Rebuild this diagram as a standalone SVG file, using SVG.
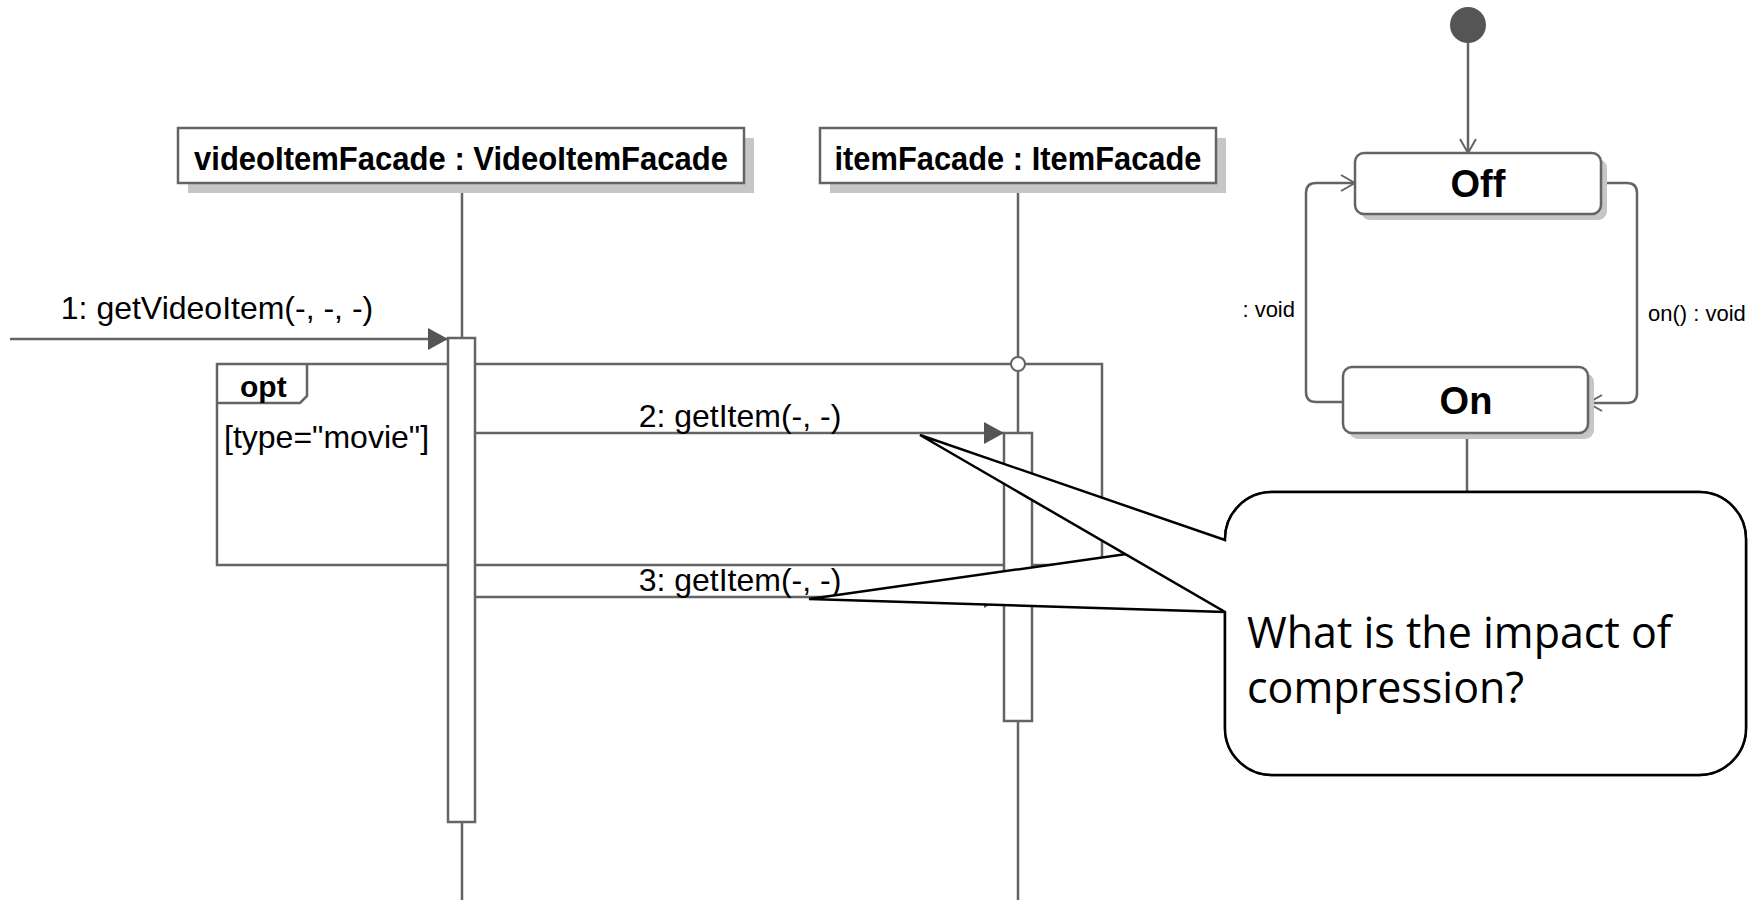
<svg xmlns="http://www.w3.org/2000/svg" width="1749" height="900" viewBox="0 0 1749 900">
<style>
.ln{stroke:#646464;stroke-width:2.5;fill:none}
.box{fill:#fff;stroke:#646464;stroke-width:2.5}
.sh{fill:#c6c6c6;stroke:none}
.t{font-family:"Liberation Sans",Arial,Helvetica,sans-serif;fill:#000}
.b{font-weight:bold}
.call{fill:#fff;stroke:#000;stroke-width:2.5;stroke-linejoin:miter}
.ct{font-family:"Open Sans","Noto Sans",sans-serif;font-size:43px;fill:#000}
</style>
<defs>
<marker id="fa" markerUnits="userSpaceOnUse" markerWidth="20" markerHeight="22" refX="20" refY="11" orient="auto">
<path d="M0,0 L20,11 L0,22 Z" fill="#555"/>
</marker>
<marker id="oa" markerUnits="userSpaceOnUse" markerWidth="16" markerHeight="18" refX="15" refY="9" orient="auto">
<path d="M1,1 L15,9 L1,17" fill="none" stroke="#646464" stroke-width="2"/>
</marker>
<clipPath id="clipOff"><rect x="1239" y="280" width="100" height="60"/></clipPath>
</defs>
<rect width="1749" height="900" fill="#fff"/>

<g id="lifeline-videoItemFacade">
<line class="ln" x1="462" y1="183" x2="462" y2="900"/>
<rect class="sh" x="188" y="138" width="566" height="55"/>
<rect class="box" x="178" y="128" width="566" height="55"/>
<text class="t b" x="461" y="170" font-size="33" text-anchor="middle" textLength="534" lengthAdjust="spacingAndGlyphs">videoItemFacade : VideoItemFacade</text>
</g>
<g id="lifeline-itemFacade">
<line class="ln" x1="1018" y1="183" x2="1018" y2="900"/>
<rect class="sh" x="830" y="138" width="396" height="55"/>
<rect class="box" x="820" y="128" width="396" height="55"/>
<text class="t b" x="1018" y="170" font-size="33" text-anchor="middle" textLength="367" lengthAdjust="spacingAndGlyphs">itemFacade : ItemFacade</text>
</g>

<g id="opt-frame">
<rect class="ln" x="217" y="364" width="885" height="201"/>
<path class="ln" d="M217,403 H300 L307,396 V364"/>
<circle cx="1018" cy="364" r="7" fill="#fff" stroke="#646464" stroke-width="2"/>
<text class="t b" x="240" y="397" font-size="30">opt</text>
<text class="t" x="224" y="448" font-size="32">[type="movie"]</text>
</g>

<g id="activations">
<rect class="box" x="448" y="338" width="27" height="484"/>
<rect class="box" x="1004" y="433" width="28" height="288"/>
</g>

<g id="connectors">
<line class="ln" x1="10" y1="339" x2="448" y2="339" marker-end="url(#fa)"/>
<line class="ln" x1="475" y1="433" x2="1004" y2="433" marker-end="url(#fa)"/>
<line class="ln" x1="475" y1="597" x2="1004" y2="597" marker-end="url(#fa)"/>
<line class="ln" x1="1468" y1="43" x2="1468" y2="153" marker-end="url(#oa)"/>
<path class="ln" d="M1601,183 H1627 Q1637,183 1637,193 V393 Q1637,403 1627,403 H1588" marker-end="url(#oa)"/>
<path class="ln" d="M1343,402 H1316 Q1306,402 1306,392 V193 Q1306,183 1316,183 H1355" marker-end="url(#oa)"/>
<line class="ln" x1="1467" y1="433" x2="1467" y2="492"/>
</g>

<g id="labels">
<text class="t" x="217" y="319" font-size="32" text-anchor="middle">1: getVideoItem(-, -, -)</text>
<text class="t" x="740" y="427" font-size="32" text-anchor="middle">2: getItem(-, -)</text>
<text class="t" x="740" y="591" font-size="32" text-anchor="middle">3: getItem(-, -)</text>
<text class="t" x="1648" y="321" font-size="22">on() : void</text>
<text class="t" x="1295" y="317" font-size="22" text-anchor="end" clip-path="url(#clipOff)">) : void</text>
</g>

<g id="initial">
<circle cx="1468" cy="25" r="18" fill="#555"/>
</g>
<g id="state-Off">
<rect class="sh" x="1361" y="159" width="246" height="61" rx="9"/>
<rect class="box" x="1355" y="153" width="246" height="61" rx="9"/>
<text class="t b" x="1478" y="197" font-size="38" text-anchor="middle">Off</text>
</g>
<g id="state-On">
<rect class="sh" x="1349" y="373" width="245" height="66" rx="9"/>
<rect class="box" x="1343" y="367" width="245" height="66" rx="9"/>
<text class="t b" x="1466" y="414" font-size="38" text-anchor="middle">On</text>
</g>

<g id="callout-msg3">
<path class="call" d="M1225,540 L809,599 L1225,612 V728 A47,47 0 0 0 1272,775 H1699 A47,47 0 0 0 1746,728 V539 A47,47 0 0 0 1699,492 H1272 A47,47 0 0 0 1225,539 Z"/>
</g>
<g id="callout-msg2">
<path class="call" d="M1225,540 L920,435 L1225,612 V728 A47,47 0 0 0 1272,775 H1699 A47,47 0 0 0 1746,728 V539 A47,47 0 0 0 1699,492 H1272 A47,47 0 0 0 1225,539 Z"/>
<text class="ct" x="1247" y="648">What is the impact of</text>
<text class="ct" x="1247" y="703">compression?</text>
</g>
</svg>
